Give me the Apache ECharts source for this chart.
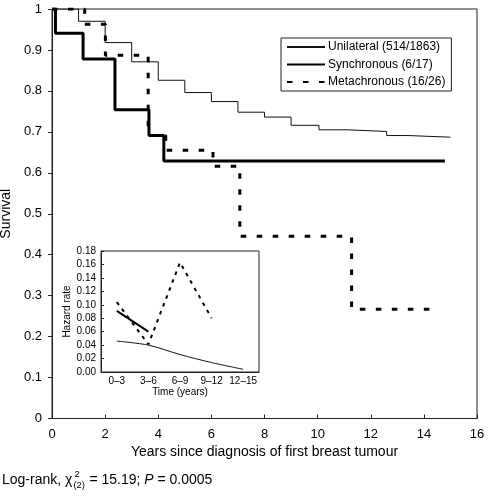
<!DOCTYPE html>
<html>
<head>
<meta charset="utf-8">
<script src="https://cdn.jsdelivr.net/npm/echarts@6/dist/echarts.min.js"></script>
<style>
html,body{margin:0;padding:0;background:#fff;}
#c{width:488px;height:498px;}
</style>
</head>
<body>
<div id="c"></div>
<script>
// ---- Data ----
const seriesNames = ['Unilateral (514/1863)', 'Synchronous (6/17)', 'Metachronous (16/26)'];

const uniTime = [0, 1.0, 2.0, 3.0, 4.0, 5.0, 6.0, 7.0, 8.0, 9.0, 10.05, 11.1, 12.6, 13.4, 15.0];
const uniSurv = [1, 0.970, 0.918, 0.871, 0.826, 0.796, 0.774, 0.748, 0.736, 0.716, 0.705, 0.701, 0.691, 0.687, 0.687];

const synTime = [0, 0.13, 1.17, 2.37, 3.65, 4.21, 14.79];
const synSurv = [1, 0.941, 0.878, 0.754, 0.691, 0.629, 0.629];

const metTime = [0, 1.23, 2.01, 3.62, 4.28, 6.06, 7.07, 11.28, 14.39];
const metSurv = [1, 0.963, 0.887, 0.691, 0.655, 0.616, 0.445, 0.267, 0.267];

const xTicks = [0, 16, 2];      // min, max, interval
const yTicks = [0, 1, 0.1];

// inset: hazard rates
const hazardCats = ['0–3', '3–6', '6–9', '9–12', '12–15'];
const hazardUni = [0.046, 0.040, 0.026, 0.014, 0.004];
const hazardSyn = [0.091, 0.060, null, null, null];
const hazardMet = [0.104, 0.041, 0.163, 0.080, null];
const insetYTicks = [0, 0.18, 0.02];

// ---- Chart ----
const FONT = '"Liberation Sans", Arial, Helvetica, sans-serif';
const zip = (a, b) => a.map((v, i) => [v, b[i]]);

const chart = echarts.init(document.getElementById('c'), null, {renderer: 'canvas'});

// measure helper for the footer formula layout
const mctx = document.createElement('canvas').getContext('2d');
function tw(t, f) { mctx.font = f; return mctx.measureText(t).width; }
const f14 = '14px ' + FONT, f14i = 'italic 14px ' + FONT, f9 = '9.5px ' + FONT;
const fx0 = 2, fy = 481;
const t1 = 'Log-rank, χ';
const w1 = tw(t1, f14);
const xs = fx0 + w1 + 1;
const wsub = tw('(2)', f9);
const t2 = ' = 15.19; ';
const xt2 = xs + wsub + 0.5;
const w2 = tw(t2, f14);
const xP = xt2 + w2;
const wP = tw('P', f14i);
const t3 = ' = 0.0005';

const option = {
  backgroundColor: '#fff',
  animation: false,
  textStyle: {fontFamily: FONT, color: '#000'},
  legend: {
    left: 281, top: 38,
    orient: 'vertical',
    data: seriesNames,
    itemWidth: 38, itemHeight: 12, itemGap: 5.5,
    padding: [3, 6, 3, 5],
    borderColor: '#222', borderWidth: 1,
    backgroundColor: '#fff',
    itemStyle: {opacity: 0},
    textStyle: {fontSize: 12, color: '#000', fontFamily: FONT, padding: [0, 0, 0, -2]},
    inactiveColor: '#000'
  },
  grid: [
    {left: 52, top: 9, width: 425, height: 409.5, show: true, borderColor: '#222', borderWidth: 1,
     backgroundColor: 'transparent', containLabel: false, outerBoundsMode: 'none'},
    {left: 101, top: 251, width: 158, height: 121, show: true, borderColor: '#222', borderWidth: 1,
     backgroundColor: '#fff', z: 5, containLabel: false, outerBoundsMode: 'none'}
  ],
  xAxis: [
    {
      type: 'value', gridIndex: 0, min: xTicks[0], max: xTicks[1], interval: xTicks[2],
      axisLine: {lineStyle: {color: '#222', width: 1}},
      axisTick: {inside: true, length: 4, lineStyle: {color: '#222'}},
      axisLabel: {fontSize: 13, color: '#000', margin: 9, fontFamily: FONT},
      splitLine: {show: false},
      name: 'Years since diagnosis of first breast tumour',
      nameLocation: 'middle', nameGap: 16,
      nameTextStyle: {fontSize: 14, color: '#000', fontFamily: FONT}
    },
    {
      type: 'category', gridIndex: 1, data: hazardCats, boundaryGap: true, z: 6,
      axisLine: {lineStyle: {color: '#222', width: 1}},
      axisTick: {inside: true, length: 3, alignWithLabel: false, lineStyle: {color: '#222'}},
      axisLabel: {fontSize: 10, color: '#000', margin: 4, fontFamily: FONT, interval: 0},
      splitLine: {show: false},
      name: 'Time (years)', nameLocation: 'middle', nameGap: 15,
      nameTextStyle: {fontSize: 10, color: '#000', fontFamily: FONT}
    }
  ],
  yAxis: [
    {
      type: 'value', gridIndex: 0, min: yTicks[0], max: yTicks[1], interval: yTicks[2],
      axisLine: {show: true, lineStyle: {color: '#222', width: 1}},
      axisTick: {show: true, inside: false, length: 4, lineStyle: {color: '#222'}},
      axisLabel: {fontSize: 13, color: '#000', margin: 10, fontFamily: FONT},
      splitLine: {show: false},
      name: 'Survival', nameLocation: 'middle', nameGap: 31,
      nameTextStyle: {fontSize: 14, color: '#000', fontFamily: FONT}
    },
    {
      type: 'value', gridIndex: 1, min: insetYTicks[0], max: insetYTicks[1], interval: insetYTicks[2], z: 6,
      axisLine: {show: true, lineStyle: {color: '#222', width: 1}},
      axisTick: {show: true, inside: true, length: 3, lineStyle: {color: '#222'}},
      axisLabel: {fontSize: 10, color: '#000', margin: 5, fontFamily: FONT, formatter: v => v.toFixed(2)},
      splitLine: {show: false},
      name: 'Hazard rate', nameLocation: 'middle', nameGap: 25,
      nameTextStyle: {fontSize: 10, color: '#000', fontFamily: FONT}
    }
  ],
  series: [
    {
      name: seriesNames[0], type: 'line', step: 'end', xAxisIndex: 0, yAxisIndex: 0,
      data: zip(uniTime, uniSurv), symbol: 'none', color: '#000',
      lineStyle: {color: '#111', width: 1}
    },
    {
      name: seriesNames[1], type: 'line', step: 'end', xAxisIndex: 0, yAxisIndex: 0,
      data: zip(synTime, synSurv), symbol: 'none', color: '#000',
      lineStyle: {color: '#000', width: 3}
    },
    {
      name: seriesNames[2], type: 'line', step: 'end', xAxisIndex: 0, yAxisIndex: 0,
      data: zip(metTime, metSurv), symbol: 'none', color: '#000',
      lineStyle: {color: '#000', width: 3, type: [5.5, 10.5]}
    },
    {
      name: 'h-uni', type: 'line', xAxisIndex: 1, yAxisIndex: 1, z: 7,
      data: hazardUni, symbol: 'none', smooth: 0.3,
      lineStyle: {color: '#111', width: 1}
    },
    {
      name: 'h-syn', type: 'line', xAxisIndex: 1, yAxisIndex: 1, z: 7,
      data: hazardSyn, symbol: 'none',
      lineStyle: {color: '#000', width: 2}
    },
    {
      name: 'h-met', type: 'line', xAxisIndex: 1, yAxisIndex: 1, z: 7,
      data: hazardMet, symbol: 'none',
      lineStyle: {color: '#000', width: 2, type: [3.5, 5]}
    }
  ],
  graphic: [
    {type: 'text', left: fx0, top: fy - 8, style: {text: t1, font: f14, fill: '#000'}},
    {type: 'text', left: xs + 1, top: fy - 12, style: {text: '2', font: f9, fill: '#000'}},
    {type: 'text', left: xs, top: fy - 1, style: {text: '(2)', font: f9, fill: '#000'}},
    {type: 'text', left: xt2, top: fy - 8, style: {text: t2, font: f14, fill: '#000'}},
    {type: 'text', left: xP, top: fy - 8, style: {text: 'P', font: f14i, fill: '#000'}},
    {type: 'text', left: xP + wP, top: fy - 8, style: {text: t3, font: f14, fill: '#000'}}
  ]
};
chart.setOption(option);
</script>
</body>
</html>
